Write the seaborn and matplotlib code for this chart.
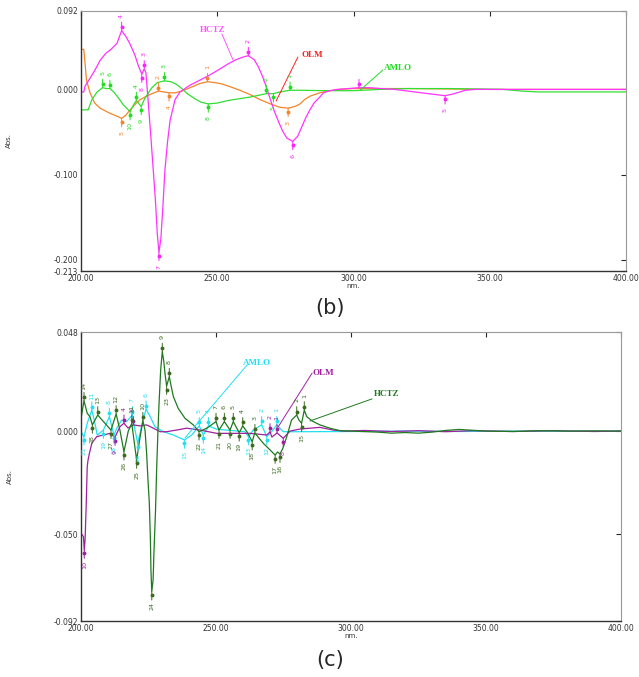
import numpy as np
import pandas as pd
import matplotlib
matplotlib.use("Agg")
import matplotlib.pyplot as plt
import seaborn as sns
from matplotlib.transforms import offset_copy

# ---------------- panel (b) data ----------------
b_hctz_x = [200.0, 201.0, 201.5, 203.3, 205.0, 207.0, 209.0, 211.0, 213.2, 214.9, 216.5, 218.0, 219.8,
            221.0, 222.3, 223.2, 223.8, 224.6, 225.5, 226.4, 227.3, 228.0, 228.6, 229.3, 230.0, 230.8,
            231.8, 232.7, 234.5, 236.3, 240.0, 243.7, 247.3, 251.0, 254.0, 257.0, 259.5, 261.4, 263.5,
            265.0, 266.5, 268.0, 269.5, 271.0, 272.5, 274.0, 275.5, 277.7, 279.5, 281.0, 282.5, 284.0,
            285.5, 287.6, 289.0, 291.3, 294.0, 298.0, 302.0, 306.0, 310.0, 315.0, 320.0, 325.0, 330.0,
            333.6, 337.0, 341.0, 345.0, 400.0]
b_hctz_y = [-0.003, -0.003, 0.004, 0.013, 0.022, 0.034, 0.042, 0.047, 0.054, 0.069, 0.062, 0.053, 0.040,
            0.028, 0.018, 0.024, 0.020, -0.012, -0.050, -0.090, -0.130, -0.170, -0.191, -0.175, -0.140, -0.094,
            -0.060, -0.036, -0.012, -0.003, 0.005, 0.011, 0.017, 0.024, 0.030, 0.035, 0.038, 0.0395, 0.035,
            0.027, 0.016, 0.003, -0.012, -0.026, -0.038, -0.049, -0.057, -0.061, -0.055, -0.044, -0.033, -0.024,
            -0.016, -0.009, -0.004, -0.0015, 0.000, 0.001, 0.002, 0.002, 0.001, 0.000, -0.002, -0.004, -0.006,
            -0.0074, -0.005, -0.001, 0.000, 0.000]

b_olm_x = [200.0, 201.0, 201.5, 202.0, 203.3, 205.0, 207.0, 210.6, 213.6, 214.9, 216.5, 218.0, 220.0,
           221.7, 224.0, 226.0, 228.4, 230.5, 232.3, 234.5, 237.0, 240.0, 243.7, 246.4, 249.0, 251.0,
           254.0, 258.3, 262.0, 265.7, 269.5, 273.0, 276.0, 278.5, 280.4, 282.0, 284.0, 287.6, 291.3,
           295.0, 300.0, 320.0, 350.0, 400.0]
b_olm_y = [0.047, 0.047, 0.030, 0.011, -0.004, -0.016, -0.022, -0.028, -0.032, -0.034, -0.030, -0.024, -0.017,
           -0.012, -0.008, -0.005, -0.002, -0.003, -0.004, -0.004, -0.002, 0.002, 0.007, 0.009, 0.008, 0.007,
           0.004, -0.001, -0.006, -0.012, -0.017, -0.021, -0.022, -0.020, -0.017, -0.012, -0.008, -0.004, -0.0015,
           0.000, 0.001, 0.001, 0.000, 0.000]

b_amlo_x = [200.0, 202.6, 204.0, 205.9, 207.9, 209.3, 210.6, 212.0, 213.5, 215.5, 218.0, 219.3, 220.3,
            221.3, 222.1, 223.2, 224.5, 226.0, 228.0, 230.6, 233.0, 235.0, 237.0, 239.0, 241.8, 244.0,
            246.7, 250.0, 254.0, 262.0, 265.0, 268.0, 270.6, 273.0, 276.7, 280.0, 290.0, 300.0, 310.0,
            320.0, 335.0, 355.0, 362.0, 368.0, 400.0]
b_amlo_y = [-0.024, -0.024, -0.012, -0.003, 0.002, 0.001, 0.001, -0.003, -0.009, -0.018, -0.026, -0.018, -0.013,
            -0.017, -0.020, -0.012, -0.005, 0.002, 0.008, 0.010, 0.009, 0.006, 0.001, -0.005, -0.011, -0.015,
            -0.017, -0.016, -0.013, -0.009, -0.007, -0.005, -0.005, -0.003, -0.001, -0.001, -0.0015, -0.0015, 0.000,
            0.001, 0.001, 0.000, -0.002, -0.003, -0.003]

# peaks: (nm, abs, label, +1 above / -1 below)
b_hctz_peaks = [(214.9, 0.069, '4', 1), (223.2, 0.024, '3', 1), (222.3, 0.018, '8', -1),
                (228.6, -0.191, '7', -1), (261.4, 0.0395, '2', 1), (277.7, -0.061, '6', -1),
                (302.0, 0.002, '', 1), (333.6, -0.0074, '5', -1)]
b_olm_peaks = [(214.9, -0.034, '5', -1), (228.4, -0.002, '2', 1), (232.3, -0.004, '4', -1),
               (246.4, 0.009, '1', 1), (276.0, -0.022, '3', -1)]
b_amlo_peaks = [(207.9, 0.002, '5', 1), (210.6, 0.001, '6', 1), (218.0, -0.026, '10', -1),
                (220.3, -0.013, '4', 1), (222.1, -0.020, '9', -1), (230.6, 0.010, '3', 1),
                (246.7, -0.017, '8', -1), (268.0, -0.005, '2', 1), (270.6, -0.005, '5', -1),
                (276.7, -0.001, '1', 1)]

# ---------------- panel (c) data ----------------
c_hctz_x = [200.0, 201.1, 202.3, 203.3, 204.2, 206.2, 208.3, 211.1, 213.0, 214.4, 215.9, 217.5, 218.8,
            219.6, 220.6, 221.7, 222.9, 223.7, 224.3, 224.8, 225.3, 225.7, 225.9, 226.2, 226.7, 227.0,
            227.6, 228.0, 228.5, 228.9, 229.5, 230.1, 230.6, 231.1, 231.7, 232.7, 233.3, 234.2, 236.0,
            238.5, 241.6, 243.7, 246.7, 250.0, 251.1, 253.1, 255.2, 256.4, 258.6, 259.9, 261.5, 263.4,
            264.4, 265.6, 267.5, 269.3, 271.9, 272.8, 273.7, 274.8, 276.2, 278.0, 279.9, 280.7, 281.7,
            282.7, 283.6, 285.6, 288.5, 292.2, 295.9, 300.0, 310.0, 315.0, 320.0, 325.0, 330.0, 335.0,
            340.0, 345.0, 350.0, 360.0, 370.0, 380.0, 390.0, 400.0]
c_hctz_y = [0.0062, 0.0147, 0.0086, 0.0070, 0.0030, 0.0078, 0.0046, 0.0005, 0.0083, 0.0005, -0.0100, 0.0000, 0.0038,
            -0.0043, -0.0140, -0.0043, 0.0050, 0.0005, -0.0108, -0.0237, -0.0350, -0.0528, -0.0673, -0.0778, -0.0721, -0.0592,
            -0.0382, -0.0188, 0.0005, 0.0135, 0.0296, 0.0385, 0.0344, 0.0280, 0.0218, 0.0264, 0.0223, 0.0167, 0.0110,
            0.0062, 0.0030, -0.0003, 0.0015, 0.0046, 0.0005, 0.0046, 0.0005, 0.0046, -0.0008, 0.0025, -0.0004, -0.0051,
            -0.0008, -0.0029, -0.0059, -0.0082, -0.0116, -0.0101, -0.0111, -0.0082, -0.0027, 0.0054, 0.0078, 0.0054, 0.0038,
            0.0102, 0.0070, 0.0049, 0.0030, 0.0014, 0.0002, 0.0000, -0.0005, -0.0010, -0.0007, -0.0010, -0.0005, 0.0003,
            0.0008, 0.0004, 0.0000, -0.0002, 0.0002, 0.0000, 0.0001, 0.0000]

c_olm_x = [200.0, 200.9, 201.2, 201.5, 201.9, 202.3, 202.6, 203.1, 204.0, 205.8, 208.3, 210.7, 212.6,
           214.4, 215.9, 217.4, 219.4, 221.9, 224.3, 226.8, 229.3, 231.7, 235.4, 239.1, 244.1, 250.3,
           256.4, 262.6, 268.8, 270.0, 270.7, 272.6, 274.9, 277.4, 281.1, 284.8, 288.5, 293.4, 297.8,
           305.0, 315.0, 325.0, 335.0, 345.0, 360.0, 375.0, 390.0, 400.0]
c_olm_y = [-0.0495, -0.0511, -0.0576, -0.0528, -0.0366, -0.0172, -0.0140, -0.0108, -0.0059, -0.0027, -0.0019, -0.0011, -0.0029,
           0.0021, 0.0038, 0.0015, 0.0030, 0.0025, 0.0030, 0.0014, -0.0003, -0.0003, 0.0005, 0.0014, 0.0005, -0.0011,
           -0.0011, -0.0011, -0.0019, -0.0004, -0.0029, -0.0009, -0.0035, 0.0000, 0.0010, 0.0014, 0.0018, 0.0005, 0.0000,
           0.0003, -0.0002, 0.0002, -0.0003, 0.0002, -0.0002, 0.0002, -0.0002, 0.0000]

c_amlo_x = [200.0, 201.1, 202.3, 204.0, 204.9, 206.0, 208.3, 210.5, 211.4, 212.2, 213.5, 215.1, 216.9,
            219.0, 220.0, 221.0, 222.1, 223.3, 224.1, 225.6, 227.4, 230.5, 234.2, 238.3, 241.0, 243.8,
            245.3, 247.2, 250.3, 256.4, 260.7, 262.0, 263.8, 266.9, 268.8, 270.6, 272.5, 274.9, 281.1,
            300.0, 320.0, 340.0, 360.0, 380.0, 400.0]
c_amlo_y = [-0.0003, -0.0027, 0.0038, 0.0102, 0.0054, -0.0019, 0.0005, 0.0070, 0.0021, -0.0019, 0.0021, 0.0054, 0.0046,
            0.0078, 0.0005, -0.0059, 0.0005, 0.0070, 0.0106, 0.0070, 0.0021, -0.0003, -0.0019, -0.0043, -0.0019, 0.0025,
            -0.0019, 0.0025, 0.0009, 0.0002, -0.0003, -0.0027, 0.0005, 0.0030, -0.0027, -0.0003, 0.0030, -0.0003, -0.0003,
            -0.0002, 0.0000, -0.0002, 0.0000, -0.0001, 0.0000]

c_hctz_peaks = [(201.1, 0.0147, '14', 1), (204.2, 0.0030, '28', -1), (206.2, 0.0078, '13', 1),
                (211.1, 0.0005, '27', -1), (213.0, 0.0083, '12', 1), (215.9, -0.0100, '26', -1),
                (218.8, 0.0038, '11', 1), (220.6, -0.0140, '25', -1), (222.9, 0.0050, '10', 1),
                (226.2, -0.0778, '24', -1), (230.1, 0.0385, '9', 1), (231.7, 0.0218, '23', -1),
                (232.7, 0.0264, '8', 1), (243.7, -0.0003, '22', -1), (250.0, 0.0046, '7', 1),
                (251.1, 0.0005, '21', -1), (253.1, 0.0046, '6', 1), (255.2, 0.0005, '20', -1),
                (256.4, 0.0046, '5', 1), (258.6, -0.0008, '19', -1), (259.9, 0.0025, '4', 1),
                (263.4, -0.0051, '18', -1), (264.4, -0.0008, '3', 1), (271.9, -0.0116, '17', -1),
                (273.7, -0.0111, '16', -1), (279.9, 0.0078, '2', 1), (281.7, 0.0038, '15', -1),
                (282.7, 0.0102, '1', 1)]
c_olm_peaks = [(201.2, -0.0576, '10', -1), (212.6, -0.0029, '9', -1), (215.9, 0.0038, '4', 1),
               (219.4, 0.0030, '3', 1), (270.0, -0.0004, '2', 1), (272.6, -0.0009, '1', 1),
               (274.9, -0.0035, '8', -1)]
c_amlo_peaks = [(201.1, -0.0027, '21', -1), (204.0, 0.0102, '11', 1), (208.3, 0.0005, '19', -1),
                (210.5, 0.0070, '8', 1), (212.2, -0.0019, '18', -1), (219.0, 0.0078, '7', 1),
                (221.0, -0.0059, '16', -1), (224.1, 0.0106, '6', 1), (238.3, -0.0043, '15', -1),
                (243.8, 0.0025, '5', 1), (245.3, -0.0019, '14', -1), (247.2, 0.0025, '4', 1),
                (262.0, -0.0027, '13', -1), (266.9, 0.0030, '2', 1), (268.8, -0.0027, '12', -1),
                (272.5, 0.0030, '1', 1)]

# curve name labels: (text, text xy, leader start, leader end, colour)
b_names = [('HCTZ', (248.4, 0.0697), (251.7, 0.065), (255.8, 0.0345), '#ff55ff'),
           ('OLM', (284.8, 0.0404), (279.6, 0.038), (271.6, -0.0136), '#ff2020'),
           ('AMLO', (316.3, 0.0251), (310.8, 0.0228), (302.5, -0.0007), '#22dd22')]
c_names = [('AMLO', (265.2, 0.0330), (261.5, 0.0320), (238.5, -0.0033), '#22e0f0'),
           ('OLM', (289.6, 0.0281), (285.6, 0.0281), (273.0, 0.0020), '#a020a0'),
           ('HCTZ', (313.3, 0.0180), (307.8, 0.0156), (284.8, 0.0049), '#1f7a1f')]

# ---------------------------------------------------------------
sns.set_style("white")
plt.rcParams['font.family'] = ['DejaVu Sans']

fig = plt.figure(figsize=(6.39, 6.77), dpi=100)
ax_b = fig.add_axes([0.1268, 0.5997, 0.8529, 0.3841])
ax_c = fig.add_axes([0.1268, 0.0827, 0.8450, 0.4269])


def draw_series(ax, xs, ys, color):
    df = pd.DataFrame({'nm': xs, 'abs': ys})
    sns.lineplot(data=df, x='nm', y='abs', ax=ax, color=color, lw=0.9,
                 sort=False, estimator=None)


def mark_peaks(ax, peaks, color):
    for x, y, lbl, d in peaks:
        ax.annotate('', xy=(x, y), xytext=(0, 6 * d), textcoords='offset points',
                    arrowprops=dict(arrowstyle='-', color=color, lw=0.7,
                                    shrinkA=0, shrinkB=0))
        tr = offset_copy(ax.transData, fig=fig, x=0, y=2.5 * d, units='points')
        ax.plot([x], [y], marker='o', ms=1.8, color=color, transform=tr)
        if lbl:
            ax.annotate(lbl, xy=(x, y), xytext=(0, 10.5 * d), textcoords='offset points',
                        rotation=90, ha='center', va='center', fontsize=4.6, color=color)


def name_labels(ax, names):
    for txt, pos, a, b, col in names:
        ax.plot([a[0], b[0]], [a[1], b[1]], color=col, lw=0.7)
        ax.text(pos[0], pos[1], txt, color=col, fontsize=6.5, fontweight='bold',
                family='Liberation Serif', ha='center', va='center')


def style_axes(ax, yticks, ylabels, ylim):
    ax.set_xlim(200, 400)
    ax.set_ylim(*ylim)
    ax.set_xticks([200, 250, 300, 350, 400])
    ax.set_xticklabels(['200.00', '250.00', '300.00', '350.00', '400.00'])
    ax.set_yticks(yticks)
    ax.set_yticklabels(ylabels)
    ax.tick_params(direction='in', length=3.5, width=0.8, labelsize=5.5,
                   labelcolor='#333333', top=True, right=True, pad=2)
    for s in ['left', 'bottom']:
        ax.spines[s].set_color('#333333')
        ax.spines[s].set_linewidth(1.0)
    for s in ['top', 'right']:
        ax.spines[s].set_color('#999999')
        ax.spines[s].set_linewidth(0.8)
    ax.set_xlabel('nm.', fontsize=5, color='#333333', labelpad=0)
    ax.set_ylabel('Abs.', fontsize=5, color='#333333')
    ax.yaxis.set_label_coords(-0.127, 0.5)


# panel (b)
draw_series(ax_b, b_olm_x, b_olm_y, '#f5842a')
draw_series(ax_b, b_amlo_x, b_amlo_y, '#33dd33')
draw_series(ax_b, b_hctz_x, b_hctz_y, '#ff33ff')
mark_peaks(ax_b, b_olm_peaks, '#f5842a')
mark_peaks(ax_b, b_amlo_peaks, '#22dd22')
mark_peaks(ax_b, b_hctz_peaks, '#ff22ff')
name_labels(ax_b, b_names)
style_axes(ax_b, [0.092, 0.0, -0.1, -0.2, -0.213],
           ['0.092', '0.000', '-0.100', '-0.200', '-0.213'], (-0.213, 0.092))

# panel (c)
draw_series(ax_c, c_amlo_x, c_amlo_y, '#22e0f0')
draw_series(ax_c, c_olm_x, c_olm_y, '#a020a0')
draw_series(ax_c, c_hctz_x, c_hctz_y, '#1f7a1f')
mark_peaks(ax_c, c_amlo_peaks, '#22e0f0')
mark_peaks(ax_c, c_olm_peaks, '#a020a0')
mark_peaks(ax_c, c_hctz_peaks, '#3d6b1f')
name_labels(ax_c, c_names)
style_axes(ax_c, [0.048, 0.0, -0.05, -0.092],
           ['0.048', '0.000', '-0.050', '-0.092'], (-0.092, 0.048))

fig.text(0.516, 1 - 308 / 677, '(b)', fontsize=15, ha='center', va='center')
fig.text(0.516, 1 - 660 / 677, '(c)', fontsize=15, ha='center', va='center')

fig.savefig('out.png', dpi=100)
